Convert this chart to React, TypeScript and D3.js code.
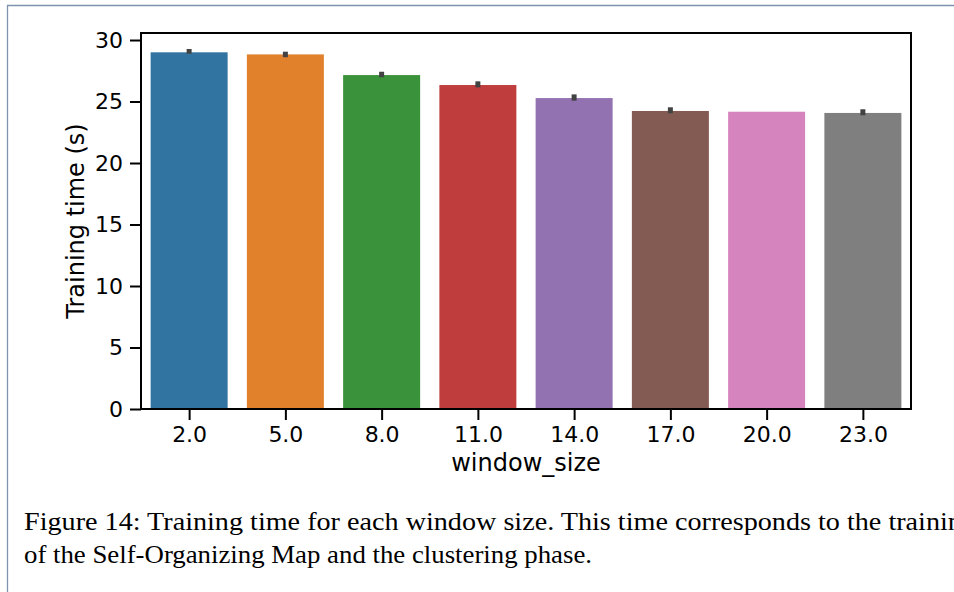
import React, { useEffect, useRef } from 'react';
import * as d3 from 'd3';

const windowSizes = ['2.0', '5.0', '8.0', '11.0', '14.0', '17.0', '20.0', '23.0'];
const trainingTime = [29.0, 28.83, 27.15, 26.34, 25.28, 24.23, 24.17, 24.07];
const ciLow = [28.89, 28.6, 26.97, 26.15, 25.07, 24.04, 24.17, 23.88];
const ciHigh = [29.27, 29.05, 27.42, 26.64, 25.58, 24.53, 24.17, 24.37];
const yTicks = [0, 5, 10, 15, 20, 25, 30];
const barColors = ['#3274a1', '#e1812c', '#3a923a', '#c03d3e', '#9372b2', '#845b53', '#d684bd', '#7f7f7f'];
const captionLines = [
  'Figure 14: Training time for each window size. This time corresponds to the training',
  'of the Self-Organizing Map and the clustering phase.',
];
// justified widths of the caption lines (first line runs past the crop)
const captionWidths = [952, 568];

const App = () => {
  const svgRef = useRef<SVGSVGElement>(null);

  useEffect(() => {
    const svg = d3.select(svgRef.current);
    svg.selectAll('*').remove();

    const W = 954, H = 592;
    const left = 141, right = 911, top = 33, bottom = 409;
    const sans = 'DejaVu Sans, sans-serif';

    svg.append('rect').attr('width', W).attr('height', H).attr('fill', '#fff');

    // page frame (only left and top edges show)
    svg.append('path')
      .attr('d', `M7.5,${H} V5.5 H${W}`)
      .attr('fill', 'none')
      .attr('stroke', '#7f93ae')
      .attr('stroke-width', 1.3);

    const xc = d3.scalePoint().domain(windowSizes).range([left, right]).padding(0.5);
    const step = xc.step();
    const y = d3.scaleLinear().domain([0, 30.57]).range([bottom, top]);

    const data = windowSizes.map((k, i) => ({ k, v: trainingTime[i], lo: ciLow[i], hi: ciHigh[i], c: barColors[i] }));

    svg.append('g').selectAll('rect')
      .data(data)
      .join('rect')
      .attr('x', d => xc(d.k)! - step * 0.4)
      .attr('width', step * 0.8)
      .attr('y', d => y(d.v))
      .attr('height', d => y(0) - y(d.v))
      .attr('fill', d => d.c);

    svg.append('g').selectAll('line')
      .data(data.filter(d => d.hi > d.lo))
      .join('line')
      .attr('x1', d => xc(d.k)!)
      .attr('x2', d => xc(d.k)!)
      .attr('y1', d => y(d.lo))
      .attr('y2', d => y(d.hi))
      .attr('stroke', '#424242')
      .attr('stroke-width', 5);

    // y axis
    const yAxis = svg.append('g')
      .attr('transform', `translate(${left},0)`)
      .call(d3.axisLeft(y).tickValues(yTicks).tickSize(11).tickPadding(7));
    yAxis.select('.domain').remove();
    yAxis.selectAll('line').attr('stroke', '#000').attr('stroke-width', 2);
    yAxis.selectAll('text').attr('font-family', sans).attr('font-size', 22).attr('fill', '#000');

    // x axis
    const xAxis = svg.append('g')
      .attr('transform', `translate(0,${bottom})`)
      .call(d3.axisBottom(xc).tickSize(11).tickPadding(6));
    xAxis.select('.domain').remove();
    xAxis.selectAll('line').attr('stroke', '#000').attr('stroke-width', 2);
    xAxis.selectAll('text').attr('font-family', sans).attr('font-size', 22).attr('fill', '#000');

    // frame
    svg.append('rect')
      .attr('x', left).attr('y', top)
      .attr('width', right - left).attr('height', bottom - top)
      .attr('fill', 'none').attr('stroke', '#000').attr('stroke-width', 2);

    svg.append('text')
      .attr('x', (left + right) / 2).attr('y', 471)
      .attr('text-anchor', 'middle')
      .attr('font-family', sans).attr('font-size', 24)
      .text('window_size');

    svg.append('text')
      .attr('transform', `translate(84,${(top + bottom) / 2}) rotate(-90)`)
      .attr('text-anchor', 'middle')
      .attr('font-family', sans).attr('font-size', 24)
      .text('Training time (s)');

    // caption
    const cap = svg.append('g')
      .attr('font-family', 'Liberation Serif, serif')
      .attr('font-size', 25)
      .attr('fill', '#000');
    captionLines.forEach((line, i) => {
      cap.append('text')
        .attr('x', 24).attr('y', 530 + i * 33)
        .attr('textLength', captionWidths[i])
        .attr('lengthAdjust', 'spacingAndGlyphs')
        .text(line);
    });
  }, []);

  return (
    <svg ref={svgRef} width={954} height={592}
      style={{ position: 'absolute', left: 0, top: 0, display: 'block' }} />
  );
};

export default App;
